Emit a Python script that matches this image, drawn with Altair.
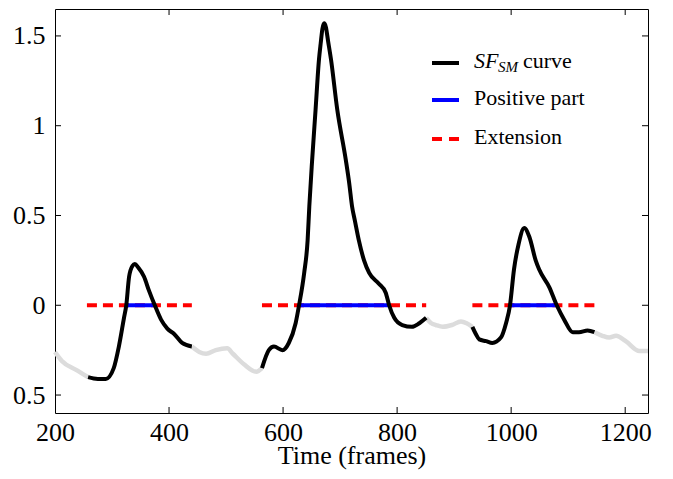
import altair as alt
import pandas as pd

# ---- data ----
gap0_t = [200, 212, 237, 258]
gap0_v = [-0.26, -0.31, -0.36, -0.40]

peak1_t = [258, 275, 289, 303, 312, 321, 325, 330, 336, 340, 346, 356, 365, 375, 386, 397, 409, 423, 440]
peak1_v = [-0.40, -0.41, -0.41, -0.35, -0.23, -0.07, 0.0, 0.16, 0.22, 0.23, 0.21, 0.16, 0.08, 0.0, -0.08, -0.13, -0.16, -0.21, -0.23]

gap1_t = [440, 453, 465, 482, 502, 512, 532, 553, 563]
gap1_v = [-0.23, -0.26, -0.27, -0.25, -0.24, -0.27, -0.33, -0.37, -0.35]

peak2_t = [563, 575, 584, 599, 610, 622, 628, 637, 643, 646, 651, 657, 663, 666, 669, 672, 675, 679, 684, 695, 710, 716, 721, 726, 733, 742, 751, 768, 780, 786, 795, 809, 826, 839, 851]
peak2_v = [-0.35, -0.25, -0.23, -0.25, -0.21, -0.10, 0.0, 0.18, 0.36, 0.55, 0.81, 1.09, 1.37, 1.46, 1.54, 1.57, 1.55, 1.47, 1.37, 1.09, 0.81, 0.68, 0.55, 0.47, 0.36, 0.25, 0.18, 0.12, 0.07, 0.0, -0.07, -0.11, -0.12, -0.10, -0.07]

gap2_t = [851, 860, 868, 880, 896, 912, 922, 932]
gap2_v = [-0.07, -0.10, -0.11, -0.12, -0.11, -0.09, -0.10, -0.12]

peak3_t = [932, 938, 944, 956, 967, 982, 991, 998, 1005, 1013, 1023, 1032, 1043, 1049, 1067, 1080, 1093, 1108, 1119, 1134, 1146]
peak3_v = [-0.12, -0.16, -0.19, -0.20, -0.21, -0.18, -0.10, 0.0, 0.20, 0.34, 0.43, 0.38, 0.25, 0.20, 0.10, 0.0, -0.08, -0.15, -0.15, -0.14, -0.15]

gap3_t = [1146, 1160, 1172, 1184, 1201, 1225, 1240]
gap3_v = [-0.15, -0.17, -0.18, -0.17, -0.20, -0.255, -0.255]

ext_start = [256, 563, 932]
ext_end = [440, 851, 1146]
pos_start = [325, 628, 998]
pos_end = [375, 786, 1080]

x_ticks = [200, 400, 600, 800, 1000, 1200]
y_ticks = [-0.5, 0, 0.5, 1, 1.5]

# ---- tables ----
def seg_df(pairs):
    rows = []
    for name, ts, vs in pairs:
        for i, (t, v) in enumerate(zip(ts, vs)):
            rows.append({"t": t, "v": v, "seg": name, "i": i})
    return pd.DataFrame(rows)

gray_df = seg_df([("g0", gap0_t, gap0_v), ("g1", gap1_t, gap1_v),
                  ("g2", gap2_t, gap2_v), ("g3", gap3_t, gap3_v)])
black_df = seg_df([("p1", peak1_t, peak1_v), ("p2", peak2_t, peak2_v),
                   ("p3", peak3_t, peak3_v)])
ext_df = pd.DataFrame({"t": ext_start, "e": ext_end, "v": [0, 0, 0]})
pos_df = pd.DataFrame({"t": pos_start, "e": pos_end, "v": [0, 0, 0]})
xt_df = pd.DataFrame({"t": x_ticks[1:]})
yt_df = pd.DataFrame({"v": y_ticks})

W, H = 593, 404
FONT = "Liberation Serif"

xs = alt.Scale(domain=[200, 1240], nice=False, zero=False)
ys = alt.Scale(domain=[-0.6, 1.65], nice=False, zero=False)

x_axis = alt.Axis(values=x_ticks, format="d", labelFlush=False, labelPadding=6,
                  labelFont=FONT, titleFont=FONT,
                  title="Time (frames)", titleY=50, titleBaseline="alphabetic")
y_axis = alt.Axis(values=y_ticks, labelPadding=10, title=None, labelFont=FONT,
                  labelExpr="format(abs(datum.value), '~g')")

X = alt.X("t:Q", scale=xs, axis=x_axis, title="Time (frames)")
Y = alt.Y("v:Q", scale=ys, axis=y_axis, title=None)

gray = alt.Chart(gray_df).mark_line(color="#dcdcdc", strokeWidth=4.5, interpolate="monotone").encode(
    x=X, y=Y, detail="seg:N", order="i:Q")

red = alt.Chart(ext_df).mark_rule(color="#ff0000", strokeWidth=4, strokeDash=[10, 6]).encode(
    x=X, x2="e:Q", y=Y)
blue = alt.Chart(pos_df).mark_rule(color="#0000ff", strokeWidth=4).encode(
    x=X, x2="e:Q", y=Y)

black = alt.Chart(black_df).mark_line(color="black", strokeWidth=4, interpolate="monotone").encode(
    x=X, y=Y, detail="seg:N", order="i:Q")

# inward ticks on all four sides
tl = alt.Chart(yt_df).mark_rule(color="black", strokeWidth=1).encode(
    y=Y, x=alt.value(0), x2=alt.value(6))
tr = alt.Chart(yt_df).mark_rule(color="black", strokeWidth=1).encode(
    y=Y, x=alt.value(W), x2=alt.value(W - 6))
tb = alt.Chart(xt_df).mark_rule(color="black", strokeWidth=1).encode(
    x=X, y=alt.value(H), y2=alt.value(H - 6))
tt = alt.Chart(xt_df).mark_rule(color="black", strokeWidth=1).encode(
    x=X, y=alt.value(0), y2=alt.value(6))

# manual legend
one = pd.DataFrame({"a": [0]})
lg_black = alt.Chart(one).mark_rule(color="black", strokeWidth=4).encode(
    x=alt.value(377), x2=alt.value(404), y=alt.value(54))
lg_blue = alt.Chart(one).mark_rule(color="#0000ff", strokeWidth=4).encode(
    x=alt.value(377), x2=alt.value(404), y=alt.value(91))
lg_red = alt.Chart(one).mark_rule(color="#ff0000", strokeWidth=4, strokeDash=[10, 7]).encode(
    x=alt.value(377), x2=alt.value(404), y=alt.value(130))

def txt(s, x, y, size=22, style="normal"):
    return alt.Chart(one).mark_text(font=FONT, fontSize=size, fontStyle=style, align="left",
                                    baseline="alphabetic", color="black").encode(
        x=alt.value(x), y=alt.value(y), text=alt.value(s))

legend = [lg_black, lg_blue, lg_red,
          txt("SF", 419, 59, 22, "italic"), txt("SM", 443, 63, 15, "italic"),
          txt("curve", 468, 59), txt("Positive part", 419, 96), txt("Extension", 419, 135)]

chart = alt.layer(gray, red, blue, black, tl, tr, tb, tt, *legend).properties(
    width=W, height=H,
    autosize=alt.AutoSizeParams(type="none"),
    padding={"left": 47, "top": 1, "right": 15, "bottom": 57},
).configure(background="white", font=FONT).configure_view(
    stroke="black", strokeWidth=1
).configure_axis(
    labelFont=FONT, labelFontSize=26, labelColor="black",
    titleFont=FONT, titleFontSize=26, titleFontWeight="normal", titleColor="black",
    ticks=False, domain=False, grid=False, labelFlush=False)

chart.save("out.html", embed_options={"renderer": "svg", "actions": False})
